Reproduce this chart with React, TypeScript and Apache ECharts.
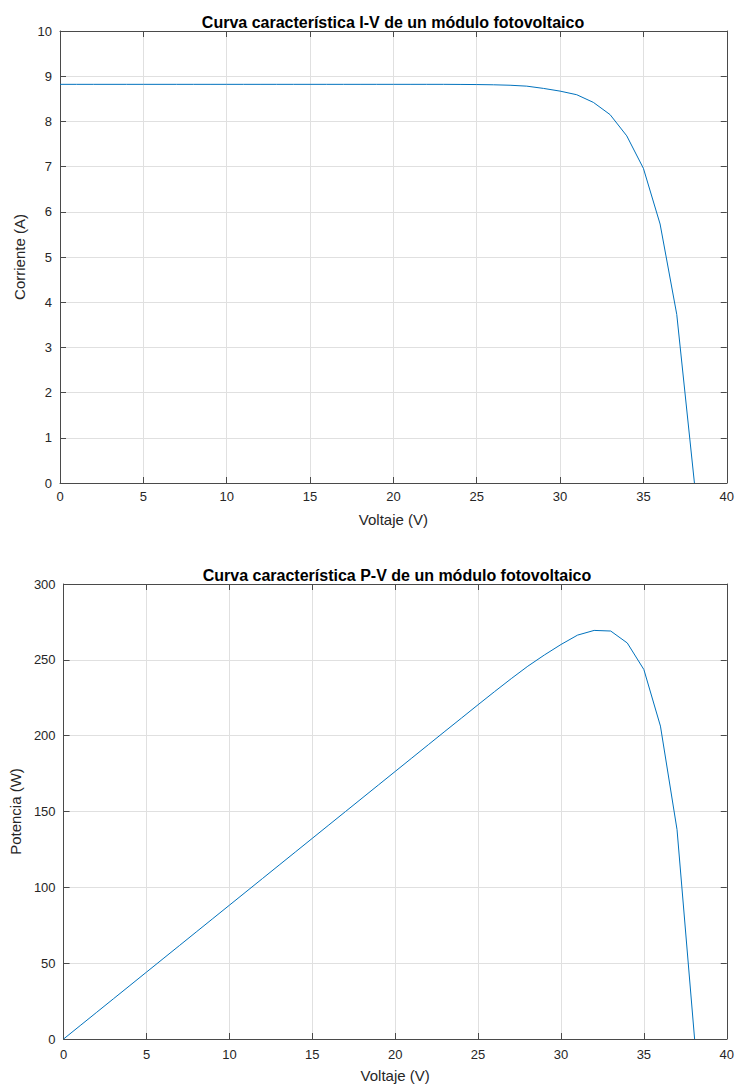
import React, { useEffect, useRef } from "react";
import * as echarts from "echarts";

const voltage = [0, 1, 2, 3, 4, 5, 6, 7, 8, 9, 10, 11, 12, 13, 14, 15, 16, 17, 18, 19, 20, 21, 22, 23, 24, 25, 26, 27, 28, 29, 30, 31, 32, 33, 34, 35, 36, 37, 38.06];
const current = [8.82, 8.82, 8.82, 8.82, 8.82, 8.82, 8.82, 8.82, 8.82, 8.82, 8.82, 8.82, 8.82, 8.82, 8.82, 8.82, 8.82, 8.82, 8.82, 8.82, 8.82, 8.82, 8.82, 8.82, 8.818, 8.815, 8.81, 8.80, 8.78, 8.73, 8.67, 8.59, 8.42, 8.15, 7.68, 6.96, 5.73, 3.73, 0];
const power = [0, 8.82, 17.64, 26.46, 35.28, 44.1, 52.92, 61.74, 70.56, 79.38, 88.2, 97.02, 105.84, 114.66, 123.48, 132.3, 141.12, 149.94, 158.76, 167.58, 176.4, 185.22, 194.04, 202.86, 211.6, 220.4, 229.1, 237.6, 245.8, 253.2, 260.1, 266.3, 269.4, 269.0, 261.1, 243.6, 206.3, 138.0, 0];

const titleIV = "Curva característica I-V de un módulo fotovoltaico";
const titlePV = "Curva característica P-V de un módulo fotovoltaico";
const xName = "Voltaje (V)";
const yNameIV = "Corriente (A)";
const yNamePV = "Potencia (W)";

const FONT = "'Liberation Sans', Arial, Helvetica, sans-serif";
const AXIS_COLOR = "#4a4a4a";
const TEXT_COLOR = "#262626";
const GRID_COLOR = "#e0e0e0";
const LINE_COLOR = "#0072BD";

export default function App() {
  const ref = useRef<HTMLDivElement>(null);
  useEffect(() => {
    if (!ref.current) return;
    const chart = echarts.init(ref.current, undefined, { renderer: "svg" });

    const grids = [
      { left: 60, right: 10, top: 31, height: 452 },
      { left: 62, right: 7, top: 584, height: 455 },
    ];

    const baseX = (gi: number, margin: number) => ({
      type: "value",
      gridIndex: gi,
      min: 0,
      max: 40,
      interval: 5,
      name: xName,
      nameLocation: "middle",
      nameGap: 29,
      nameTextStyle: { fontFamily: FONT, fontSize: 15, color: TEXT_COLOR },
      axisLine: { show: true, onZero: false, lineStyle: { color: AXIS_COLOR, width: 1 } },
      axisTick: { show: true, inside: true, length: 6, lineStyle: { color: AXIS_COLOR } },
      axisLabel: { fontFamily: FONT, fontSize: 13, color: TEXT_COLOR, margin: margin },
      splitLine: { show: true, lineStyle: { color: GRID_COLOR, width: 1 } },
    });
    const topX = (gi: number) => ({
      type: "value",
      gridIndex: gi,
      position: "top",
      min: 0,
      max: 40,
      interval: 5,
      axisLine: { show: true, onZero: false, lineStyle: { color: AXIS_COLOR, width: 1 } },
      axisTick: { show: true, inside: true, length: 6, lineStyle: { color: AXIS_COLOR } },
      axisLabel: { show: false },
      splitLine: { show: false },
    });
    const leftY = (gi: number, max: number, interval: number, name: string, gap: number) => ({
      type: "value",
      gridIndex: gi,
      min: 0,
      max: max,
      interval: interval,
      name: name,
      nameLocation: "middle",
      nameGap: gap,
      nameRotate: 90,
      nameTextStyle: { fontFamily: FONT, fontSize: 15, color: TEXT_COLOR },
      axisLine: { show: true, onZero: false, lineStyle: { color: AXIS_COLOR, width: 1 } },
      axisTick: { show: true, inside: true, length: 6, lineStyle: { color: AXIS_COLOR } },
      axisLabel: { fontFamily: FONT, fontSize: 13, color: TEXT_COLOR, margin: 8 },
      splitLine: { show: true, lineStyle: { color: GRID_COLOR, width: 1 } },
    });
    const rightY = (gi: number, max: number, interval: number) => ({
      type: "value",
      gridIndex: gi,
      position: "right",
      min: 0,
      max: max,
      interval: interval,
      axisLine: { show: true, onZero: false, lineStyle: { color: AXIS_COLOR, width: 1 } },
      axisTick: { show: true, inside: true, length: 6, lineStyle: { color: AXIS_COLOR } },
      axisLabel: { show: false },
      splitLine: { show: false },
    });

    chart.setOption({
      animation: false,
      backgroundColor: "#ffffff",
      title: [
        {
          text: titleIV,
          left: 388,
          top: 9,
          textAlign: "center",
          textStyle: { fontFamily: FONT, fontSize: 16, fontWeight: "bold", color: "#000000" },
        },
        {
          text: titlePV,
          left: 392,
          top: 562,
          textAlign: "center",
          textStyle: { fontFamily: FONT, fontSize: 16, fontWeight: "bold", color: "#000000" },
        },
      ],
      grid: grids,
      xAxis: [baseX(0, 7), topX(0), baseX(1, 9), topX(1)],
      yAxis: [
        leftY(0, 10, 1, yNameIV, 33),
        rightY(0, 10, 1),
        leftY(1, 300, 50, yNamePV, 37),
        rightY(1, 300, 50),
      ],
      series: [
        {
          type: "line",
          xAxisIndex: 0,
          yAxisIndex: 0,
          data: voltage.map((v, i) => [v, current[i]]),
          showSymbol: false,
          lineStyle: { color: LINE_COLOR, width: 1 },
          itemStyle: { color: LINE_COLOR },
        },
        {
          type: "line",
          xAxisIndex: 2,
          yAxisIndex: 2,
          data: voltage.map((v, i) => [v, power[i]]),
          showSymbol: false,
          lineStyle: { color: LINE_COLOR, width: 1 },
          itemStyle: { color: LINE_COLOR },
        },
      ],
    });
    return () => chart.dispose();
  }, []);

  return (
    <div
      ref={ref}
      style={{ position: "fixed", left: 0, top: 0, width: 737, height: 1086, background: "#fff" }}
    />
  );
}
